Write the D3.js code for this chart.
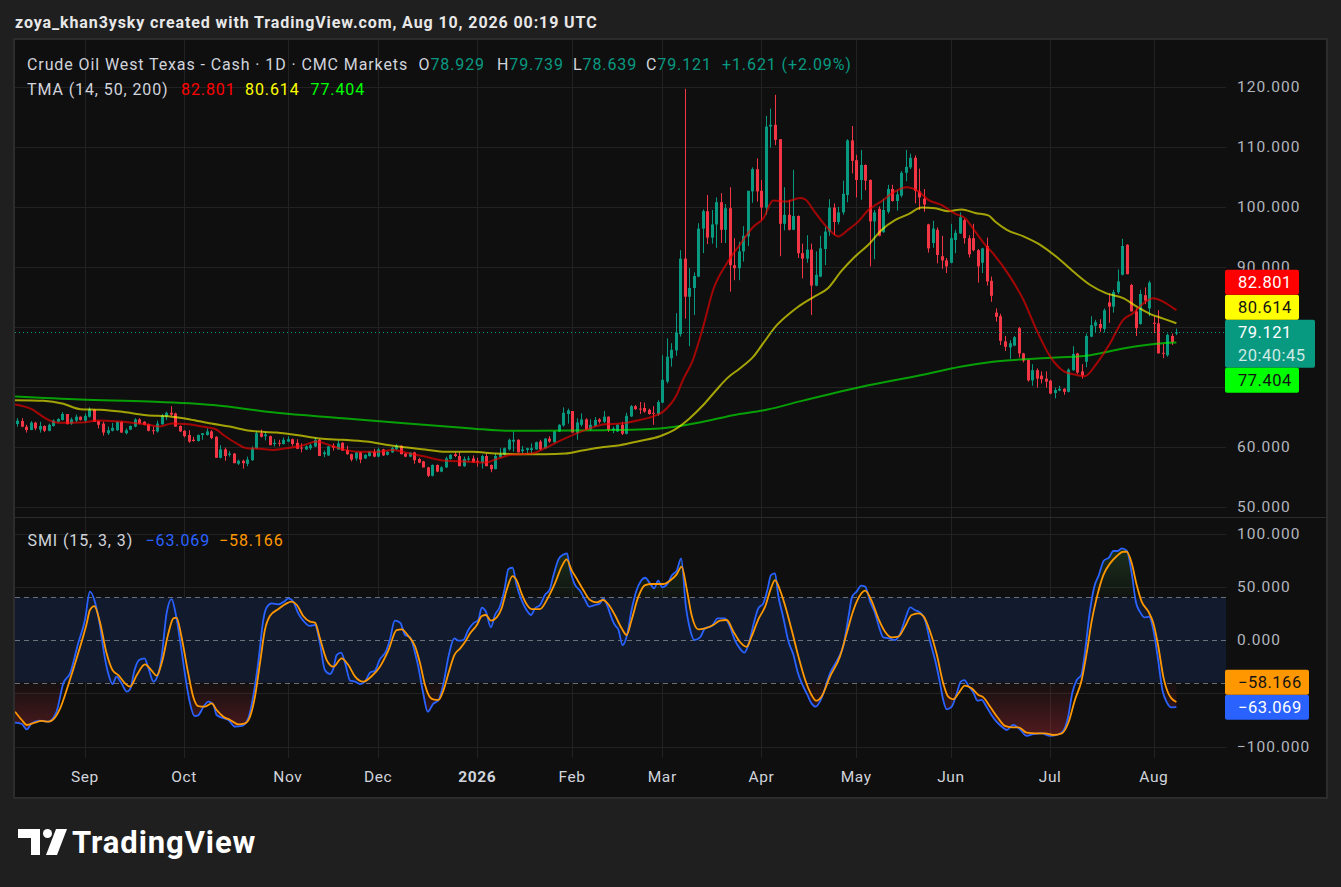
<!DOCTYPE html>
<html><head><meta charset="utf-8">
<script src="https://cdn.jsdelivr.net/npm/d3@7"></script>
<style>
html,body{margin:0;padding:0;background:#1f1f1f;overflow:hidden;}
svg{display:block;}
text{font-family:Roboto,"Noto Sans",sans-serif;}
</style></head><body>
<svg id="c" width="1341" height="887"></svg>
<script>
// ---- Candles (daily bars, index 0 = first visible bar) ----
const open=[63.83,64.33,63.39,62.83,64.06,62.9,63.5,62.7,63.5,64.2,64.5,65.5,63.9,64.4,65.05,64.4,65.05,66.2,64.3,63.9,62.3,62.7,62.8,64.2,62.3,62.9,63.4,64.6,64.2,63.8,62.8,62.6,63.8,65.05,65.7,65.6,63.5,62.7,62.0,61.2,61.0,62.0,62.0,62.6,61.7,58.2,59.6,58.7,58.9,57.2,57.7,57.2,57.8,59.8,62.3,61.8,61.8,60.5,60.7,60.5,60.9,61.3,60.7,59.9,59.6,59.8,60.1,61.2,58.8,58.6,60.2,59.6,60.7,59.5,58.8,58.1,59.1,58.1,58.5,59.2,58.4,59.6,58.7,59.1,59.6,60.2,58.9,58.4,59.1,58.0,57.6,56.6,55.2,57.0,55.9,56.6,58.0,58.8,58.5,56.8,57.9,58.1,57.7,57.4,58.5,57.0,56.3,58.3,58.7,59.6,60.9,61.2,59.3,59.5,59.5,59.6,60.9,59.8,61.4,60.8,62.6,63.6,65.5,66.0,62.3,63.7,64.6,62.9,63.5,64.6,64.2,65.05,62.8,62.6,63.7,62.2,65.1,66.8,66.4,66.5,66.2,65.7,65.5,67.4,70.9,74.8,76.1,78.8,91.4,85.05,86.5,88.4,96.4,99.3,94.9,97.1,100.8,96.2,99.8,90.3,89.8,92.6,95.1,102.6,106.3,102.7,99.9,113.4,113.7,111.3,97.2,98.7,96.2,98.5,92.3,91.4,92.9,86.9,88.4,93.0,95.9,99.9,97.5,99.1,102.0,111.1,107.8,104.5,107.0,104.5,97.6,99.7,95.8,99.2,103.0,101.0,101.9,105.7,106.6,108.2,102.6,101.4,97.1,94.0,96.2,91.8,91.1,90.7,94.5,95.6,97.8,94.8,94.8,92.8,90.7,93.5,87.7,82.4,81.8,77.6,76.6,76.9,79.8,75.6,74.5,71.1,72.8,71.9,71.4,71.05,69.0,69.4,69.7,69.2,72.8,75.6,72.6,74.2,78.4,80.2,80.5,79.7,84.1,83.4,85.8,88.7,93.7,87.0,82.6,80.5,85.3,83.1,80.7,80.6,75.7,75.3,78.5,78.929];
const high=[64.8,64.8,63.7,64.3,64.2,64.2,63.6,63.9,64.6,64.8,65.8,65.5,64.9,65.4,65.1,65.6,66.6,66.3,64.4,64.2,63.4,64.0,64.3,64.3,63.1,63.6,64.8,64.8,64.3,63.9,63.4,64.4,65.5,65.9,66.8,65.7,63.6,62.8,62.8,61.7,62.1,62.3,63.1,62.8,61.8,60.3,59.9,59.3,59.0,57.9,57.9,58.4,60.1,62.6,62.9,62.5,61.9,61.3,61.2,61.6,61.8,61.4,61.3,60.6,60.3,60.6,61.6,61.3,59.4,60.2,60.6,61.1,60.8,60.2,58.9,59.1,59.2,58.8,59.3,59.7,59.9,59.7,59.3,60.0,60.5,60.3,59.0,59.1,59.2,58.2,57.7,56.7,57.1,57.1,56.8,58.4,58.8,59.1,59.1,58.4,58.5,58.6,58.2,58.7,58.9,57.1,58.9,59.8,59.9,61.4,62.6,61.3,60.2,59.9,60.6,60.9,61.2,61.5,61.8,62.7,63.8,66.6,66.4,66.0,64.8,65.6,64.8,64.6,65.0,64.8,66.0,65.1,63.4,63.8,64.2,65.7,67.0,67.0,67.5,67.4,66.4,66.8,67.8,75.3,78.1,77.3,82.3,92.8,119.7,89.8,89.1,97.3,99.6,102.0,99.5,101.6,102.3,100.5,103.3,94.8,94.2,96.8,102.7,106.6,108.1,104.5,115.2,116.4,118.7,111.3,103.3,101.2,106.2,98.6,93.9,95.3,93.9,92.6,95.2,96.7,101.3,100.6,100.0,104.4,111.3,113.5,108.7,109.5,107.1,104.6,99.5,100.1,101.4,103.7,103.7,102.8,106.0,109.5,108.9,108.6,106.4,103.0,97.2,97.7,96.6,95.2,91.5,97.2,96.2,99.1,98.0,95.3,97.2,93.0,93.2,94.9,88.4,83.1,82.2,78.5,77.8,78.5,80.0,75.7,74.6,73.8,73.1,72.6,72.6,71.2,69.9,70.2,69.8,73.1,76.8,75.7,73.8,78.9,81.8,81.2,81.3,83.1,85.6,86.2,89.6,94.7,93.8,87.2,83.1,86.2,86.6,87.7,81.8,82.8,77.2,78.9,78.9,79.739];
const low=[63.4,63.3,62.4,62.8,62.8,62.4,62.5,62.6,63.4,64.1,64.4,63.8,63.7,64.1,64.4,64.1,64.9,64.2,63.1,61.9,62.0,62.6,62.7,62.4,62.1,62.8,63.3,63.8,63.6,62.6,62.1,62.4,63.7,64.5,65.2,63.4,62.5,61.6,60.7,60.9,60.9,61.2,61.9,61.3,58.2,58.1,57.7,58.4,57.3,57.0,56.4,56.8,57.7,59.7,61.6,61.1,60.3,60.1,60.1,60.4,60.8,60.2,59.7,59.1,59.5,59.5,60.0,58.5,58.3,58.5,59.4,59.5,59.4,58.7,57.6,57.7,57.3,58.0,58.4,58.3,58.3,58.5,58.6,59.0,59.5,58.8,58.3,58.3,57.2,57.3,56.6,55.0,55.1,55.8,55.8,56.5,57.9,58.3,56.8,56.7,57.6,57.4,56.7,56.4,56.8,55.8,56.3,58.2,58.6,59.4,59.2,59.1,58.9,58.9,58.9,59.5,59.5,59.7,60.7,60.7,62.5,63.4,63.9,62.4,61.2,63.4,62.8,62.7,63.4,63.9,64.0,62.5,62.3,62.5,62.0,62.1,65.0,66.2,65.5,65.7,65.4,63.7,65.2,67.3,70.6,73.4,75.2,78.4,81.4,76.8,82.0,88.3,92.3,93.8,93.9,93.2,94.0,94.0,85.9,87.8,87.8,90.9,93.5,100.7,100.9,97.8,98.7,109.9,110.3,91.8,96.1,96.1,96.2,91.5,88.1,90.7,82.0,86.8,88.3,90.3,95.2,95.3,97.1,98.7,100.8,105.6,101.6,101.2,102.8,90.1,91.3,95.1,95.7,98.9,100.9,99.4,101.6,104.3,106.3,100.6,99.5,99.2,92.4,93.2,90.6,89.7,89.0,90.6,92.3,95.5,93.9,91.6,92.6,87.4,89.0,86.9,84.2,80.9,77.0,76.0,74.7,76.8,74.9,74.1,70.9,70.2,69.9,70.6,69.9,68.8,68.1,69.3,68.7,69.1,72.7,72.2,71.4,73.3,78.3,79.0,79.2,79.1,80.7,82.4,85.5,88.6,88.8,82.6,78.5,80.4,83.8,81.8,79.0,75.6,74.8,75.05,77.0,78.639];
const close=[64.39,63.39,62.83,64.06,63.1,63.5,62.7,63.7,64.4,64.67,65.5,63.8,64.6,65.05,64.5,65.2,66.3,64.2,63.7,62.4,62.8,63.2,64.2,62.4,62.8,63.5,64.6,63.9,63.7,62.7,62.7,63.9,65.2,65.7,65.4,63.4,62.6,61.8,60.9,61.0,62.0,62.3,62.6,61.5,58.2,59.6,58.5,58.9,57.3,57.7,57.3,57.9,59.8,62.3,61.7,62.1,60.3,60.7,60.6,61.2,61.3,60.5,59.7,59.8,60.1,60.3,61.2,58.5,59.1,60.1,59.9,60.6,59.4,58.8,57.9,59.1,57.9,58.7,59.2,58.4,59.6,58.6,59.2,59.8,60.2,58.8,58.4,59.06,57.8,57.4,56.6,55.2,57.0,55.9,56.6,58.1,58.7,58.5,56.8,58.0,58.1,57.4,57.6,58.5,56.8,56.3,58.5,58.8,59.8,61.2,61.2,59.1,59.6,59.8,59.8,60.8,59.6,61.4,60.9,62.6,63.7,65.7,66.1,62.4,64.1,64.6,62.9,63.7,64.5,64.2,65.05,62.9,63.1,63.7,62.2,65.2,66.8,66.3,66.3,65.9,65.5,65.6,67.5,71.2,75.05,76.2,79.05,91.4,85.05,86.5,88.5,96.4,99.3,94.9,97.1,100.8,96.2,99.8,90.3,89.8,92.6,95.2,102.7,106.3,102.6,99.9,113.4,113.7,111.2,97.2,98.7,96.2,98.5,92.3,91.4,92.9,86.9,88.7,93.1,95.9,99.9,97.5,99.1,102.2,111.1,107.7,104.5,107.0,104.4,97.6,99.1,95.2,99.5,103.0,101.0,102.1,105.7,106.7,108.2,102.7,101.6,100.4,93.1,96.4,92.0,91.1,90.1,94.8,95.7,98.3,94.8,92.1,92.8,90.1,93.1,87.6,85.2,81.7,77.7,76.7,77.3,78.3,75.6,74.4,71.1,72.8,71.4,71.3,70.9,68.9,69.5,69.7,69.2,72.9,75.5,72.4,71.9,78.5,80.3,80.8,79.8,82.8,83.4,85.8,87.6,93.5,88.8,82.6,79.8,85.5,84.4,87.4,80.6,75.6,75.6,78.7,77.5,79.121];

// ---- Moving averages: [bar index, value] ----
const ma14=[[-0.5,67.1],[3.2,66.3],[5.4,65.2],[6.9,64.5],[9.1,64.06],[14.3,64.1],[18,64.4],[21.7,64.3],[25.4,64.06],[29.1,63.7],[31.3,63.4],[34.3,63.9],[38,63.8],[41,63.4],[43.9,63.0],[45.7,62.0],[48.6,60.6],[50.8,59.8],[53.8,59.7],[56.7,59.5],[59.7,59.8],[63.4,60.3],[66.3,60.9],[69.3,60.3],[72.2,59.6],[75.9,59.2],[79.6,59.2],[83.3,59.5],[86.5,59.0],[90.4,58.4],[94.9,57.7],[99.3,57.6],[103.7,57.4],[106.7,58.1],[109.6,58.7],[114,58.9],[117,59.8],[119.9,60.9],[122.2,61.7],[125.1,62.6],[128.1,63.4],[130.3,63.8],[133.6,63.9],[138,64.5],[141,65.1],[143.2,65.9],[146.2,68.7],[147.6,71.2],[149.8,74.5],[152.1,80.1],[154.3,86.2],[157.3,90.6],[160.2,93.7],[163.2,96.7],[165.4,98.1],[167.6,101.1],[170.6,100.9],[173.5,101.5],[174.6,101.3],[176.8,99.2],[179.8,96.4],[182,95.1],[184.2,96.2],[186.5,97.6],[188.7,99.5],[191.7,101.0],[194.6,102.6],[197.2,103.3],[199.8,102.6],[202,101.2],[205,100.3],[207.9,98.9],[210.2,98.1],[212.4,95.9],[214.6,93.7],[216.3,92.3],[220.1,88.4],[223.1,84.5],[226,79.5],[229,75.1],[231.9,72.7],[234.9,72.0],[236.7,71.8],[239.3,73.9],[242.3,77.3],[245.2,81.2],[247.4,82.3],[249.6,83.9],[251.9,84.8],[254.1,84.2],[257,82.801]];
const ma50=[[-0.5,67.8],[5.8,67.7],[10.2,67.2],[14,66.3],[18.4,66.2],[22.8,65.9],[28.7,65.3],[33.9,65.1],[38.3,64.6],[43,63.9],[47.1,63.4],[51.6,62.7],[57.5,62.4],[61.9,62.0],[67.1,61.4],[72.2,61.2],[77.4,60.9],[82.6,60.3],[86.5,59.9],[90.4,59.6],[94.9,59.2],[100.8,59.2],[106,58.9],[111.1,58.8],[117,58.8],[121.5,58.9],[125.2,59.4],[130,60.0],[133.6,60.3],[138,61.0],[142.5,61.8],[146.2,63.1],[149.1,64.8],[152.1,67.0],[155,69.5],[157.3,71.4],[160.2,73.1],[163.2,75.05],[165.4,77.3],[168.4,80.3],[171.3,82.3],[173,83.3],[176.8,85.1],[179.8,86.5],[182.7,89.3],[185.7,91.7],[188.7,93.7],[191.7,96.2],[194.6,97.8],[197.6,98.8],[200.5,99.9],[203.5,99.8],[206.4,99.3],[209.4,99.6],[212.4,99.0],[215.3,98.6],[216.8,97.6],[219.4,96.2],[223.1,95.1],[226.8,93.7],[230.4,91.7],[234.2,89.2],[237.9,87.0],[241.5,85.6],[245.2,84.8],[248.2,83.4],[251.1,82.2],[254.1,81.4],[257,80.614]];
const ma200=[[-0.5,68.4],[14,67.9],[29.1,67.6],[43.5,67.0],[57.5,65.7],[72.2,64.8],[86.5,63.9],[100.8,63.1],[108.2,62.7],[115.6,62.7],[130,62.8],[142.5,63.1],[151.3,64.1],[158.7,65.3],[166.1,66.2],[173.5,67.6],[187,70.0],[200.5,72.0],[209.4,73.4],[216.3,74.2],[230.4,74.9],[237.9,75.3],[245.2,76.4],[252.6,77.2],[257,77.404]];

// ---- SMI (15,3,3): [bar index, value] ----
const smiK=[[-0.5,-77.6],[1.0,-78.9],[2.1,-83.9],[3.2,-78.2],[5.0,-75.7],[6.9,-76.7],[8.7,-67.3],[10.2,-40.7],[11.7,-31.3],[13.5,-3.1],[15.0,18.8],[16.1,45.4],[17.2,36.0],[18.3,14.1],[19.3,-14.1],[20.2,-32],[21.1,-41.3],[22.0,-34.4],[23.1,-40.7],[24.3,-48.5],[25,-46.3],[26,-28.2],[27,-18.8],[28.2,-17.2],[29.1,-26.6],[30.2,-39.1],[31.3,-31.3],[32.0,-15.6],[33.1,25.0],[34.2,38.5],[35.3,20.4],[36.4,-9.4],[37.6,-43.8],[38.3,-59.5],[39.3,-71.4],[40.1,-70.7],[41.3,-62.6],[42.4,-57.9],[43.5,-61.0],[44.2,-70.4],[45.7,-73.5],[46.8,-75.1],[48.3,-81.4],[49.8,-80.7],[51.2,-73.5],[52.3,-53.2],[53.4,-21.9],[54.6,20.4],[55.3,30.7],[56.4,34.4],[57.9,33.5],[59.4,36.9],[60.1,39.1],[61.2,36],[62.3,25.0],[63.4,18.2],[64.9,13.2],[66,14.1],[67.1,-3.1],[68.2,-28.2],[69.3,-31.9],[70.1,-26.6],[70.8,-14.1],[71.8,-11.9],[72.7,-21.9],[73.8,-38.2],[74.9,-39.1],[76,-41.3],[77.1,-39.1],[78.2,-30.7],[79.3,-28.8],[80.4,-18.1],[81.7,-11],[82.6,0],[83.7,18.2],[84.9,16.3],[86,4.7],[87.1,2.5],[88.2,-12.5],[88.9,-25],[90,-50],[91,-67.3],[92.2,-60],[93.4,-56.3],[94.5,-40.7],[95.6,-15.6],[96.9,1.6],[97.8,-0.6],[98.9,0],[100,9.4],[101.1,15.7],[102.2,18.8],[103,30.4],[103.9,26.6],[105,11.9],[105.9,23.5],[107,31.3],[108,47],[108.9,66.7],[109.8,67.9],[110.7,51.6],[111.8,37.6],[112.9,28.2],[113.9,23.5],[114.8,29.8],[115.9,32.9],[117,42.3],[118,47],[118.9,61],[120,75.8],[120.9,79.8],[121.9,81.4],[122.5,67.3],[123.5,53.2],[124.8,46],[125.9,37.6],[126.8,31.3],[128.1,32.9],[129.2,34.4],[129.9,39.1],[130.9,31.3],[131.8,20.4],[132.5,14.1],[133.3,9.4],[134.2,-4.7],[135.1,3.1],[136.2,28.2],[137.2,45.4],[138.3,55.7],[139.2,58.5],[140.3,53.2],[141.2,48.5],[142.1,55.7],[143,49.5],[144.2,53.2],[145.2,61],[146.2,65.1],[147.2,76.7],[148.2,32.9],[149.2,9.4],[150.1,0],[151.4,2.5],[152.5,11],[154,13.2],[155.3,20.4],[156.9,20.4],[158,12.5],[159.1,0],[160.2,-7.8],[161.2,-11.9],[162.1,-4.7],[163.2,14.1],[164.3,29.8],[165.4,34.4],[166.4,48.5],[167.1,61],[168,62.6],[168.7,42.3],[169.8,21.9],[171,-1.6],[172.1,-14.1],[173,-29.7],[174.1,-42.2],[175.2,-51.6],[176.1,-59.5],[177,-62.6],[178.3,-54.8],[180.2,-31.3],[182,-17.2],[183.2,-4.7],[184.3,21.9],[185.1,40.7],[186.1,45.4],[187.1,51],[188,50.1],[189.1,36],[190.2,25],[191.1,11.9],[192,2.5],[193.3,1.6],[194.6,0],[195.7,5.6],[196.8,18.8],[198,30.7],[199,28.2],[200.4,25],[201.3,18.2],[202.4,-1.6],[203.5,-18.8],[204.6,-40.7],[205.3,-56.3],[206.1,-65.1],[207.2,-62.6],[208.3,-50],[209.2,-39.1],[210,-37.6],[210.9,-43.2],[212,-49.4],[212.9,-57],[213.8,-56.3],[214.9,-62.6],[216,-70.4],[217.1,-76.7],[218.3,-81.4],[219.4,-84.5],[220.8,-79.8],[222.3,-83.9],[223.8,-90.1],[225.3,-88.3],[227.1,-87.6],[229,-90.1],[230.5,-89.2],[231.9,-85.4],[233,-72],[233.9,-50],[234.9,-37.6],[235.9,-32.9],[236.7,-12.5],[237.7,23.5],[238.8,50.1],[239.8,61],[240.9,74.5],[242.1,77.6],[243,83.6],[244,83.6],[244.9,86.1],[246,83.9],[247.1,62.6],[248,36],[248.9,26.6],[249.9,21.3],[250.9,21.9],[251.9,9.4],[252.9,-17.2],[253.9,-47],[254.8,-57.9],[255.8,-63.2],[257,-63.069]];
const smiD=[[-0.5,-67.3],[1.0,-75.1],[2.1,-79.8],[3.9,-77.6],[5.4,-76.0],[6.9,-76.7],[8,-74.5],[9.5,-64.2],[11.3,-42.2],[13.5,-12.5],[15.4,15.7],[16.1,28.2],[17.1,31.9],[18.3,17.2],[19.8,-12.5],[21.1,-28.2],[22.4,-32.9],[23.9,-40.7],[25,-43.8],[26.5,-32.9],[28.3,-22.8],[29.8,-28.8],[30.9,-33.5],[32,-21.9],[33.5,6.3],[34.6,20.4],[35.3,21],[36.4,3.1],[37.9,-31.3],[39,-53.2],[40.1,-62],[41.6,-62.6],[43.1,-59.5],[44.2,-65.7],[45.7,-72],[47.2,-75.1],[49,-79.2],[50.5,-78.2],[51.6,-72],[52.7,-53.2],[53.8,-21.9],[54.9,9.4],[56,22.5],[57.9,29.1],[59.7,34.4],[60.8,36],[62,32.9],[63.4,22.5],[64.9,17.2],[66,16.3],[67.1,1.6],[68.6,-18.8],[70.1,-25],[71.9,-17.2],[73.4,-23.5],[74.9,-34.4],[76.7,-39.1],[78.6,-33.8],[80.4,-25],[82.3,-9.4],[84.1,9.4],[85.2,10],[86.7,3.8],[88.2,-6],[89.3,-21.9],[90.4,-42.2],[91.1,-50.7],[92.2,-55.7],[93.4,-56.3],[94.5,-47],[95.6,-31.3],[96.9,-14.1],[98.2,-7.8],[99.3,-1.6],[100.4,6.3],[101.9,14.1],[103,22.5],[103.9,23.5],[105,18.2],[106.3,21.3],[107.4,29.8],[108.5,47],[109.8,60.1],[110.7,56.3],[111.8,43.8],[112.9,33.8],[114,29.1],[115.9,29.1],[117.7,40.1],[119.2,53.2],[120.7,68.9],[121.8,75.8],[122.9,65.7],[124,57.9],[125.5,47],[127,37.6],[128.5,35.4],[129.9,37.6],[131,33.8],[132.5,23.5],[134,11],[135.1,4.7],[136.2,18.8],[137.7,40.7],[139.2,51.6],[140.7,52.6],[141.8,52.6],[143.2,52.6],[144.7,55.7],[146.2,61.7],[147.3,68.9],[148.4,48.5],[149.5,23.5],[151,10],[152.5,11],[154.3,14.1],[155.8,18.2],[157.3,18.8],[158.8,7.8],[160.2,-1.6],[161.7,-6.3],[162.8,3.1],[164.3,19.4],[165.8,31.3],[167.1,48.5],[168,56.3],[169.1,47],[170.2,32.9],[171.7,9.4],[173.2,-15.6],[174.7,-37.6],[176.1,-51.6],[177.1,-57],[178.3,-53.2],[180.2,-34.4],[182.4,-15.6],[183.9,6.3],[185.4,28.2],[186.9,42.3],[188,46.3],[189.4,36.9],[190.9,20.4],[192.4,7.8],[193.9,2.5],[195.3,3.1],[196.8,12.5],[198.3,23.5],[199.8,25],[200.9,22.5],[202.4,7.8],[203.9,-14.1],[205.3,-40.7],[206.4,-53.2],[207.5,-55.7],[208.7,-50],[210.1,-42.8],[211.6,-45.3],[213.1,-51.6],[214.2,-53.8],[215.7,-62.6],[217.5,-73.5],[219,-80.7],[220.5,-82],[222,-82],[223.8,-87],[225.7,-87.6],[227.9,-87.6],[229.7,-89.2],[231.6,-87.6],[233,-78.2],[234.5,-56.3],[236,-37.6],[237.1,-12.5],[238.2,17.2],[239.3,39.1],[240.8,61],[242.3,72],[243.8,78.9],[245.2,82.9],[246,82.9],[247.1,72],[248.2,51.6],[249.3,36],[250.8,26.6],[251.9,15.7],[253,-6.3],[254.1,-34.4],[255.2,-50],[255.9,-54.8],[257,-58.166]];

// ---- Axis ticks ----
const monthLabels=["Sep","Oct","Nov","Dec","2026","Feb","Mar","Apr","May","Jun","Jul","Aug"];
const monthBars=[15,37,60,80,102,123,143,165,186,207,229,252];
const priceTicks=[50,60,70,80,90,100,110,120];
const smiTicks=[-100,-50,0,50,100];
const smiGrid=[-100,-50,50,100];
const smiLevels=[-40,0,40];
const maLast=[82.801,80.614,77.404];

// ---- Layout ----
const svg=d3.select("#c");
const L=15,R=1226,PT=40,PB=517,ST=518,SB=758;
const x=d3.scaleLinear().domain([-0.51,268]).range([L,R]);
const yP=d3.scaleLinear().domain([48.333,127.833]).range([PB,PT]);
const yS=d3.scaleLinear().domain([-110.8,114.6]).range([SB,ST]);
const UP="#089981",DN="#f23645";
const LS=0.9; // letter spacing to match TradingView's wider UI font

const defs=svg.append("defs");
defs.append("clipPath").attr("id","cp").append("rect").attr("x",L).attr("y",PT).attr("width",R-L).attr("height",PB-PT);
defs.append("clipPath").attr("id","cs").append("rect").attr("x",L).attr("y",ST).attr("width",R-L).attr("height",SB-ST);
defs.append("clipPath").attr("id","cob").append("rect").attr("x",L).attr("y",ST).attr("width",R-L).attr("height",yS(40)-ST);
defs.append("clipPath").attr("id","cos").append("rect").attr("x",L).attr("y",yS(-40)).attr("width",R-L).attr("height",SB-yS(-40));
const gG=defs.append("linearGradient").attr("id","gGreen").attr("gradientUnits","userSpaceOnUse").attr("x1",0).attr("x2",0).attr("y1",yS(100)).attr("y2",yS(40));
gG.append("stop").attr("offset",0).attr("stop-color","#4caf50").attr("stop-opacity",0.26);
gG.append("stop").attr("offset",1).attr("stop-color","#4caf50").attr("stop-opacity",0.03);
const gR=defs.append("linearGradient").attr("id","gRed").attr("gradientUnits","userSpaceOnUse").attr("x1",0).attr("x2",0).attr("y1",yS(-40)).attr("y2",yS(-100));
gR.append("stop").attr("offset",0).attr("stop-color","#f23645").attr("stop-opacity",0.03);
gR.append("stop").attr("offset",1).attr("stop-color","#f23645").attr("stop-opacity",0.34);

// background / frame
svg.append("rect").attr("width",1341).attr("height",887).attr("fill","#1f1f1f");
svg.append("rect").attr("x",14).attr("y",39).attr("width",1313).attr("height",759).attr("fill","#0f0f0f").attr("stroke","#2c2c2c").attr("stroke-width",2);

// grid
const grid=svg.append("g").attr("stroke","#222").attr("stroke-width",1);
monthBars.forEach(b=>{
  const xx=Math.round(x(b))+0.5;
  grid.append("line").attr("x1",xx).attr("x2",xx).attr("y1",PT).attr("y2",PB);
  grid.append("line").attr("x1",xx).attr("x2",xx).attr("y1",ST).attr("y2",SB);
});
priceTicks.forEach(p=>{const yy=Math.round(yP(p))+0.5;grid.append("line").attr("x1",L).attr("x2",R).attr("y1",yy).attr("y2",yy);});
smiGrid.forEach(v=>{const yy=Math.round(yS(v))+0.5;grid.append("line").attr("x1",L).attr("x2",R).attr("y1",yy).attr("y2",yy);});
svg.append("line").attr("x1",L).attr("x2",1326).attr("y1",PB+0.5).attr("y2",PB+0.5).attr("stroke","#2c2c2c");

// ---- SMI pane ----
const sg=svg.append("g").attr("clip-path","url(#cs)");
sg.append("rect").attr("x",L).attr("width",R-L).attr("y",yS(40)).attr("height",yS(-40)-yS(40)).attr("fill","#121a2d");
const curve=d3.curveMonotoneX;
const areaOB=d3.area().x(d=>x(d[0])).y0(yS(40)).y1(d=>yS(d[1])).curve(curve);
const areaOS=d3.area().x(d=>x(d[0])).y0(yS(-40)).y1(d=>yS(d[1])).curve(curve);
sg.append("g").attr("clip-path","url(#cob)").append("path").attr("d",areaOB(smiK)).attr("fill","url(#gGreen)");
sg.append("g").attr("clip-path","url(#cos)").append("path").attr("d",areaOS(smiK)).attr("fill","url(#gRed)");
smiLevels.forEach(v=>{const yy=Math.round(yS(v))+0.5;
  sg.append("line").attr("x1",L).attr("x2",R).attr("y1",yy).attr("y2",yy).attr("stroke","#8a8d96").attr("stroke-opacity",0.75).attr("stroke-dasharray","5,4");});
const lineS=d3.line().x(d=>x(d[0])).y(d=>yS(d[1])).curve(curve);
sg.append("path").attr("d",lineS(smiK)).attr("fill","none").attr("stroke","#2962ff").attr("stroke-width",1.8);
sg.append("path").attr("d",lineS(smiD)).attr("fill","none").attr("stroke","#ff9800").attr("stroke-width",1.8);

// ---- Price pane ----
const pg=svg.append("g").attr("clip-path","url(#cp)");
const lineP=d3.line().x(d=>x(d[0])).y(d=>yP(d[1])).curve(curve);
const cg=pg.append("g");
d3.range(close.length).forEach(i=>{
  const o=open[i],c=close[i],col=c>=o?UP:DN;
  const xc=Math.round(x(i));
  cg.append("line").attr("x1",xc+0.5).attr("x2",xc+0.5).attr("y1",yP(high[i])).attr("y2",yP(low[i])).attr("stroke",col).attr("stroke-width",1);
  const t=yP(Math.max(o,c)),b=yP(Math.min(o,c));
  cg.append("rect").attr("x",xc-1).attr("width",3).attr("y",t).attr("height",Math.max(1,b-t)).attr("fill",col);
});
pg.append("path").attr("d",lineP(ma200)).attr("fill","none").attr("stroke","#00ff00").attr("stroke-opacity",0.6).attr("stroke-width",2);
pg.append("path").attr("d",lineP(ma50)).attr("fill","none").attr("stroke","#ffff00").attr("stroke-opacity",0.62).attr("stroke-width",2);
pg.append("path").attr("d",lineP(ma14)).attr("fill","none").attr("stroke","#ff0000").attr("stroke-opacity",0.62).attr("stroke-width",2);
const last=close[close.length-1];
pg.append("line").attr("x1",L).attr("x2",R).attr("y1",Math.round(yP(last))+0.5).attr("y2",Math.round(yP(last))+0.5)
  .attr("stroke",UP).attr("stroke-dasharray","1,3").attr("stroke-width",1.2);

// ---- value label boxes (stacked like TradingView) ----
function box(y0,h,w,fill,lines,tcol,sub){
  svg.append("rect").attr("x",1225).attr("y",y0).attr("width",w).attr("height",h).attr("rx",2).attr("fill",fill);
  lines.forEach((s,k)=>svg.append("text").attr("x",1238).attr("y",y0+12.5+k*23.5).attr("dominant-baseline","central")
    .attr("font-size",16.5).attr("letter-spacing",0.5).attr("fill",k===1&&sub?sub:tcol).text(s));
}
const tTop=yP(last)-12.5;
const kLast=smiK[smiK.length-1][1],dLast=smiD[smiD.length-1][1];
const bTop=yS(kLast)-12.5;

// ---- Axes (tick labels hidden where a value box sits on them) ----
const axG=svg.append("g").attr("font-size",15.5).attr("letter-spacing",1).attr("fill","#b2b5be");
const boxG=[[tTop,tTop+48],[tTop-25,tTop],[tTop-50,tTop-25],[tTop+48,tTop+73],[bTop,bTop+25],[bTop-25,bTop]];
const hid=yy=>boxG.some(([a,b])=>yy>a-1&&yy<b+1);
priceTicks.forEach(p=>{if(!hid(yP(p)))axG.append("text").attr("x",1237).attr("y",yP(p)).attr("dominant-baseline","central").text(p.toFixed(3));});
smiTicks.forEach(v=>{if(!hid(yS(v)))axG.append("text").attr("x",1237).attr("y",yS(v)).attr("dominant-baseline","central").text((v<0?"\u2212":"")+Math.abs(v).toFixed(3));});
monthLabels.forEach((m,k)=>svg.append("text").attr("x",x(monthBars[k])).attr("y",777).attr("text-anchor","middle")
  .attr("dominant-baseline","central").attr("font-size",15.5).attr("letter-spacing",0.6).attr("fill","#d1d4dc").attr("font-weight",m==="2026"?700:400).text(m));

box(tTop,48,90,UP,[last.toFixed(3),"20:40:45"],"#ffffff","#cfe9e3");
box(tTop-25,25,74,"#ffff00",[maLast[1].toFixed(3)],"#131313");
box(tTop-50,25,74,"#ff0000",[maLast[0].toFixed(3)],"#ffffff");
box(tTop+48,25,74,"#00ff00",[maLast[2].toFixed(3)],"#131313");
box(bTop,25,84,"#2962ff",["\u2212"+Math.abs(kLast).toFixed(3)],"#ffffff");
box(bTop-25,25,84,"#ff9800",["\u2212"+Math.abs(dLast).toFixed(3)],"#131313");

// ---- Legends ----
const fs=16;
const g1=svg.append("text").attr("x",27).attr("y",70).attr("font-size",fs).attr("letter-spacing",LS).attr("fill","#d1d4dc");
g1.append("tspan").text("Crude Oil West Texas - Cash \u00b7 1D \u00b7 CMC Markets");
[["O",open],["H",high],["L",low],["C",close]].forEach(([k,arr],j)=>{
  g1.append("tspan").attr("x",[418.5,497,573,646][j]).text(k);
  g1.append("tspan").attr("fill",UP).text(arr[arr.length-1].toFixed(3));
});
const prev=close[close.length-2],chg=last-prev;
g1.append("tspan").attr("x",722).attr("fill",UP).text("+"+chg.toFixed(3)+" (+"+(chg/prev*100).toFixed(2)+"%)");
const g2=svg.append("text").attr("x",27).attr("y",95).attr("font-size",fs).attr("letter-spacing",LS).attr("fill","#d1d4dc");
g2.append("tspan").text("TMA (14, 50, 200)");
g2.append("tspan").attr("x",181).attr("fill","#ff0000").text(maLast[0].toFixed(3));
g2.append("tspan").attr("x",245).attr("fill","#ffff00").text(maLast[1].toFixed(3));
g2.append("tspan").attr("x",310.5).attr("fill","#00ff00").text(maLast[2].toFixed(3));
const g3=svg.append("text").attr("x",27.5).attr("y",546).attr("font-size",fs).attr("letter-spacing",LS).attr("fill","#d1d4dc");
g3.append("tspan").text("SMI (15, 3, 3)");
g3.append("tspan").attr("x",145.5).attr("fill","#2962ff").text("\u2212"+Math.abs(kLast).toFixed(3));
g3.append("tspan").attr("x",219).attr("fill","#ff9800").text("\u2212"+Math.abs(dLast).toFixed(3));

// header
svg.append("text").attr("x",15).attr("y",28).attr("font-size",16).attr("font-weight",700).attr("letter-spacing",LS).attr("fill","#e8e8e8")
  .text("zoya_khan3ysky created with TradingView.com, Aug 10, 2026 00:19 UTC");

// logo
const lg=svg.append("g").attr("fill","#ffffff");
lg.append("path").attr("d","M18 829H40V855H31V838H18Z");
lg.append("circle").attr("cx",47.5).attr("cy",833.5).attr("r",4.5);
lg.append("path").attr("d","M56 829H67L57 855H46Z");
lg.append("text").attr("x",72).attr("y",853).attr("font-size",31).attr("font-weight",700).attr("letter-spacing",0.9).text("TradingView");
</script>
</body></html>
